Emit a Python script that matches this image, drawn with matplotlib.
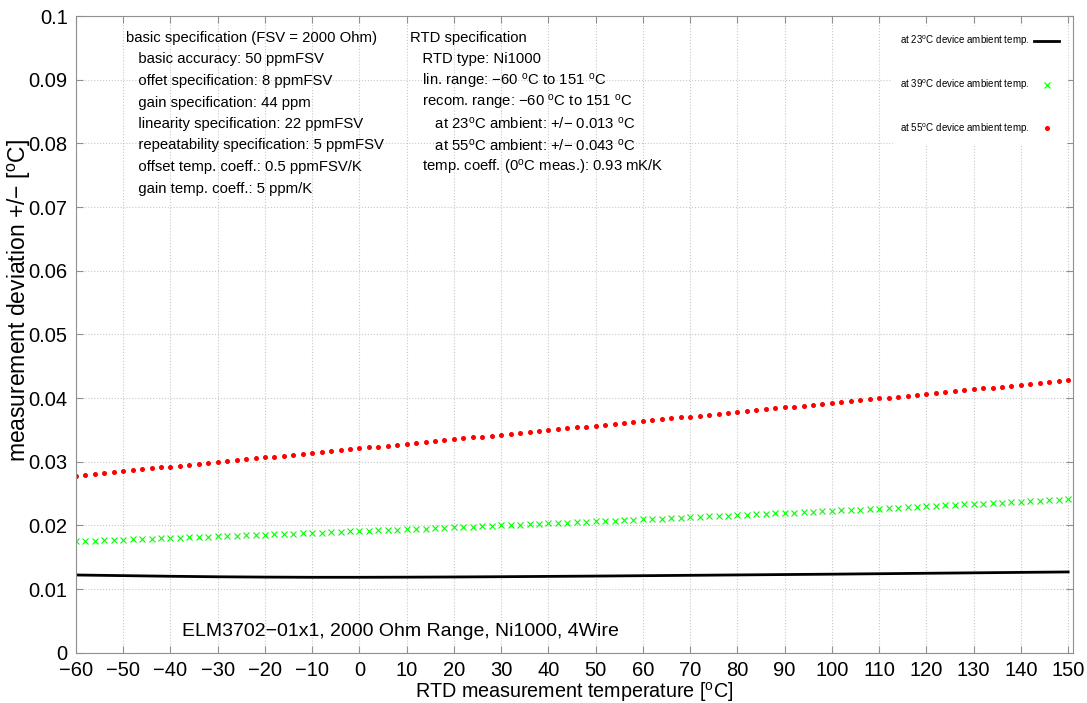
import numpy as np
import matplotlib
matplotlib.use('Agg')
import matplotlib.pyplot as plt

plt.rcParams['font.family'] = ['Liberation Sans', 'DejaVu Sans']
plt.rcParams['mathtext.fontset'] = 'custom'
plt.rcParams['mathtext.rm'] = 'Liberation Sans'
plt.rcParams['mathtext.it'] = 'Liberation Sans'

# RTD temperature (degC), markers every 2 degrees
temp = np.arange(-60, 151, 2)

# black line, sampled every 10 degrees
temp_line = np.arange(-60, 151, 10)
dev_23 = [0.01220, 0.01210, 0.01200, 0.01192, 0.01187, 0.01184, 0.01184, 0.01186,
          0.01189, 0.01193, 0.01198, 0.01203, 0.01209, 0.01215, 0.01221, 0.01227,
          0.01233, 0.01240, 0.01247, 0.01254, 0.01261, 0.01268]

dev_39 = [0.01750, 0.01755, 0.01760, 0.01765, 0.01770, 0.01775, 0.01780, 0.01785,
          0.01790, 0.01795, 0.01801, 0.01806, 0.01811, 0.01817, 0.01822, 0.01827,
          0.01832, 0.01838, 0.01843, 0.01849, 0.01854, 0.01859, 0.01865, 0.01870,
          0.01876, 0.01882, 0.01887, 0.01893, 0.01898, 0.01904, 0.01910, 0.01915,
          0.01921, 0.01927, 0.01933, 0.01939, 0.01944, 0.01950, 0.01956, 0.01962,
          0.01968, 0.01974, 0.01980, 0.01986, 0.01992, 0.01998, 0.02004, 0.02010,
          0.02016, 0.02023, 0.02029, 0.02035, 0.02041, 0.02048, 0.02054, 0.02061,
          0.02067, 0.02073, 0.02080, 0.02086, 0.02093, 0.02099, 0.02106, 0.02113,
          0.02119, 0.02126, 0.02133, 0.02139, 0.02146, 0.02153, 0.02160, 0.02166,
          0.02173, 0.02180, 0.02187, 0.02193, 0.02200, 0.02206, 0.02213, 0.02220,
          0.02227, 0.02234, 0.02241, 0.02248, 0.02256, 0.02263, 0.02270, 0.02277,
          0.02284, 0.02291, 0.02298, 0.02305, 0.02313, 0.02320, 0.02328, 0.02335,
          0.02342, 0.02350, 0.02357, 0.02365, 0.02372, 0.02380, 0.02387, 0.02395,
          0.02402, 0.02410]

dev_55 = [0.02780, 0.02794, 0.02809, 0.02823, 0.02837, 0.02851, 0.02866, 0.02880,
          0.02894, 0.02909, 0.02923, 0.02937, 0.02951, 0.02966, 0.02980, 0.02994,
          0.03008, 0.03023, 0.03037, 0.03051, 0.03066, 0.03080, 0.03094, 0.03108,
          0.03123, 0.03137, 0.03151, 0.03166, 0.03180, 0.03194, 0.03208, 0.03223,
          0.03237, 0.03251, 0.03265, 0.03280, 0.03294, 0.03308, 0.03323, 0.03337,
          0.03351, 0.03365, 0.03380, 0.03394, 0.03408, 0.03423, 0.03437, 0.03451,
          0.03465, 0.03480, 0.03494, 0.03508, 0.03522, 0.03537, 0.03551, 0.03565,
          0.03580, 0.03594, 0.03608, 0.03622, 0.03637, 0.03651, 0.03665, 0.03680,
          0.03694, 0.03708, 0.03722, 0.03737, 0.03751, 0.03765, 0.03780, 0.03794,
          0.03808, 0.03822, 0.03837, 0.03851, 0.03865, 0.03879, 0.03894, 0.03908,
          0.03922, 0.03937, 0.03951, 0.03965, 0.03979, 0.03994, 0.04008, 0.04022,
          0.04037, 0.04051, 0.04065, 0.04079, 0.04094, 0.04108, 0.04122, 0.04137,
          0.04151, 0.04165, 0.04179, 0.04194, 0.04208, 0.04222, 0.04236, 0.04251,
          0.04265, 0.04279]

labels = ['at 23$^\\mathrm{o}$C device ambient temp.',
          'at 39$^\\mathrm{o}$C device ambient temp.',
          'at 55$^\\mathrm{o}$C device ambient temp.']

spec_left = ['basic specification (FSV = 2000 Ohm)',
             '   basic accuracy: 50 ppmFSV',
             '   offet specification: 8 ppmFSV',
             '   gain specification: 44 ppm',
             '   linearity specification: 22 ppmFSV',
             '   repeatability specification: 5 ppmFSV',
             '   offset temp. coeff.: 0.5 ppmFSV/K',
             '   gain temp. coeff.: 5 ppm/K']
spec_right = ['RTD specification',
              '   RTD type: Ni1000',
              '   lin. range: \u221260 $^\\mathrm{o}$C to 151 $^\\mathrm{o}$C',
              '   recom. range: \u221260 $^\\mathrm{o}$C to 151 $^\\mathrm{o}$C',
              '      at 23$^\\mathrm{o}$C ambient: +/\u2212 0.013 $^\\mathrm{o}$C',
              '      at 55$^\\mathrm{o}$C ambient: +/\u2212 0.043 $^\\mathrm{o}$C',
              '   temp. coeff. (0$^\\mathrm{o}$C meas.): 0.93 mK/K']

fig = plt.figure(figsize=(10.87, 7.03), dpi=100)
ax = fig.add_axes([0.0699, 0.0716, 0.9171, 0.9056])

ax.plot(temp_line, dev_23, color='black', lw=2, label=labels[0])
ax.plot(temp, dev_39, 'x', color='#00ff00', ms=4, mew=0.8, label=labels[1])
ax.plot(temp, dev_55, 'o', color='red', ms=2.6, label=labels[2])

ax.set_xlim(-60, 151)
ax.set_ylim(0, 0.1)
ax.set_xticks(np.arange(-60, 151, 10))
ax.set_yticks(np.arange(0, 0.101, 0.01))
ax.set_yticklabels(['0', '0.01', '0.02', '0.03', '0.04', '0.05', '0.06', '0.07', '0.08', '0.09', '0.1'])
ax.grid(True, color='#c8c8c8', linestyle=':', lw=0.8)
ax.tick_params(direction='in', top=True, right=True, color='#909090', labelsize=14.5, length=5)
ax.tick_params(axis='y', pad=6)
ax.tick_params(axis='x', pad=6)
for s in ax.spines.values():
    s.set_color('#909090')

ax.set_xlabel('RTD measurement temperature [$^\\mathrm{o}$C]', fontsize=14.2, labelpad=0)
fig.text(19 / 1087, 1 - 301 / 703, 'measurement deviation +/\u2212 [$^\\mathrm{o}$C]',
         fontsize=16.5, rotation=90, va='center', ha='center')

leg = ax.legend(loc='upper right', fontsize=7, markerfirst=False, frameon=True,
                labelspacing=3.0, handlelength=2.6, handletextpad=0.5,
                bbox_to_anchor=(1.0, 0.993), borderaxespad=0.6, borderpad=0.8)
leg.get_frame().set_facecolor('white')
leg.get_frame().set_edgecolor('white')
leg.get_frame().set_alpha(1)

for i, t in enumerate(spec_left):
    fig.text(126 / 1087, 1 - (38 + i * 21.5) / 703, t, fontsize=10.7, va='center', ha='left')
for i, t in enumerate(spec_right):
    fig.text(410 / 1087, 1 - (38 + i * 21.5) / 703, t, fontsize=10.7, va='center', ha='left')

fig.text(182 / 1087, 1 - 632 / 703, 'ELM3702\u221201x1, 2000 Ohm Range, Ni1000, 4Wire',
         fontsize=14, va='center', ha='left')

fig.savefig('out.png', dpi=100)
